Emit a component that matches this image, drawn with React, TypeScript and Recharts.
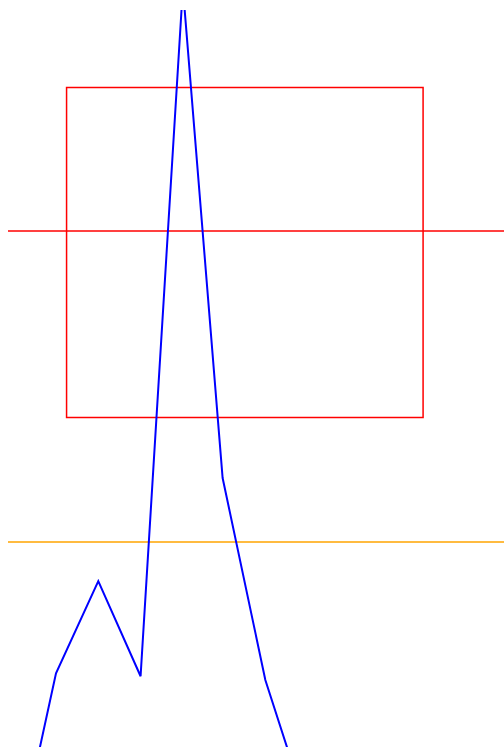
import { LineChart, Line, XAxis, YAxis, ReferenceLine, ReferenceArea } from 'recharts';

// blue series (first and last points sit below the visible area)
const xValues = [0, 1, 2, 3, 4, 4.94, 5.95, 7];
const yValues = [-16.4, 10.0, 22.5, 9.6, 103.0, 36.5, 9.1, -9.6];

// reference marks
const redLineY = 70;
const orangeLineY = 27.8;
const boxX = [1.25, 9.68];
const boxY = [44.7, 89.5];

const xDomain = [-0.135, 12.35];
const yDomain = [0, 100];

const data = xValues.map((x, i) => ({ x, y: yValues[i] }));

export default function App() {
  return (
    // absolutely placed so the chart can run past the body's right margin to the window edge
    <div style={{ position: 'absolute', left: 8, top: 8, width: 528 }}>
      <style>{'html { overflow: hidden; }'}</style>
      <LineChart
        width={528}
        height={739}
        data={data}
        margin={{ top: 2, right: 0, bottom: 0, left: 0 }}
      >
        <XAxis type="number" dataKey="x" domain={xDomain} allowDataOverflow hide />
        <YAxis type="number" domain={yDomain} allowDataOverflow hide />
        <ReferenceArea
          x1={boxX[0]}
          x2={boxX[1]}
          y1={boxY[0]}
          y2={boxY[1]}
          stroke="red"
          strokeWidth={1.5}
          fill="none"
          fillOpacity={0}
        />
        <ReferenceLine y={redLineY} stroke="red" strokeWidth={1.5} />
        <ReferenceLine y={orangeLineY} stroke="orange" strokeWidth={1.5} />
        <Line
          type="linear"
          dataKey="y"
          stroke="blue"
          strokeWidth={2}
          dot={false}
          isAnimationActive={false}
        />
      </LineChart>
    </div>
  );
}
